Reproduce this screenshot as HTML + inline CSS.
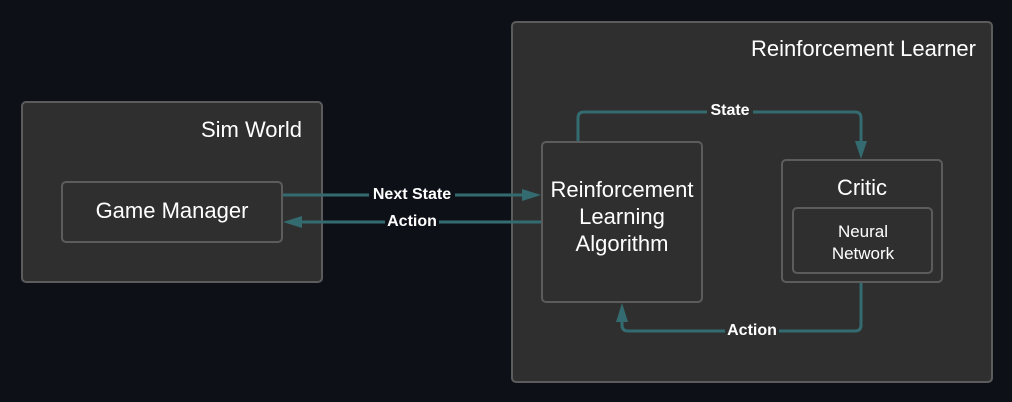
<!DOCTYPE html>
<html><head><meta charset="utf-8"><style>
html,body{margin:0;padding:0;background:#0d1017;}
svg{display:block;font-family:"Liberation Sans",sans-serif;}
</style></head><body>
<svg width="1012" height="402" viewBox="0 0 1012 402">
<rect width="1012" height="402" fill="#0d1017"/>
<g fill="#2f2f2f" stroke="#5c5c5c" stroke-width="2">
<rect x="22" y="102" width="300" height="180" rx="4"/>
<rect x="62" y="182" width="220" height="60" rx="4"/>
<rect x="512" y="22" width="480" height="360" rx="4"/>
<rect x="542" y="142" width="160" height="160" rx="4"/>
<rect x="782" y="160" width="160" height="122" rx="4"/>
<rect x="793" y="208" width="139" height="65" rx="4"/>
</g>
<g fill="none" stroke="#336b70" stroke-width="3">
<line x1="283" y1="195" x2="525" y2="195"/>
<line x1="300" y1="222" x2="541" y2="222"/>
<path d="M578 141 V118 Q578 112 584 112 H855 Q861 112 861 118 V145"/>
<path d="M861 283 V325 Q861 331 855 331 H628 Q622 331 622 325 V318"/>
</g>
<g fill="#336b70">
<polygon points="541,195 522,189 522,201"/>
<polygon points="283,222 302,216 302,228"/>
<polygon points="861,159 855,141 867,141"/>
<polygon points="622,303 616,322 628,322"/>
</g>
<g fill="#2f2f2f">
<rect x="707" y="101" width="46" height="18"/>
<rect x="725" y="321" width="54" height="18"/>
</g>
<rect x="369" y="185" width="86" height="18" fill="#0d1017"/>
<rect x="385" y="212" width="54" height="18" fill="#0d1017"/>
<g fill="#fff" font-weight="bold" font-size="16" text-anchor="middle">
<text x="412" y="199">Next State</text>
<text x="412" y="226">Action</text>
<text x="730" y="115">State</text>
<text x="752" y="335">Action</text>
</g>
<g fill="#fff" text-anchor="middle" font-size="22">
<text x="302" y="137" text-anchor="end">Sim World</text>
<text x="976" y="56" text-anchor="end">Reinforcement Learner</text>
<text x="172" y="218">Game Manager</text>
<text x="622" y="197">Reinforcement</text>
<text x="622" y="224">Learning</text>
<text x="622" y="251">Algorithm</text>
<text x="862" y="195">Critic</text>
<text x="863" y="237" font-size="17">Neural</text>
<text x="863" y="259" font-size="17">Network</text>
</g>
</svg>
</body></html>
